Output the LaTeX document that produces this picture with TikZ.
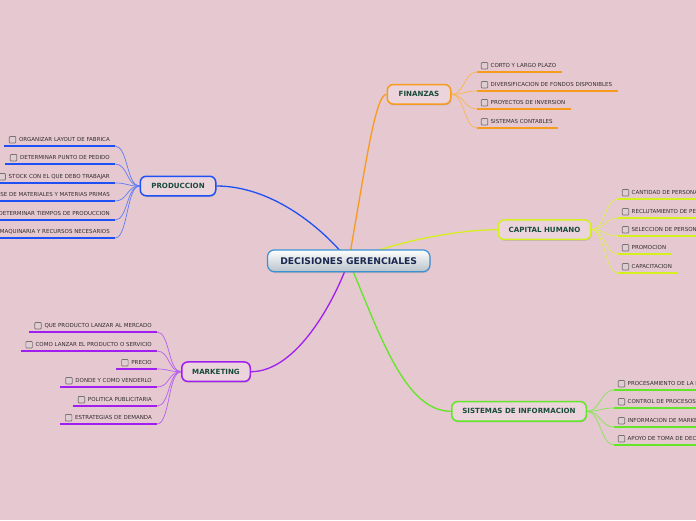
\documentclass[tikz,border=0pt]{standalone}
\usepackage{fontspec}
\setmainfont{DejaVu Sans}
\usetikzlibrary{shadows,calc}
\definecolor{bg}{RGB}{229,200,208}
\definecolor{nodefill}{RGB}{236,212,220}
\definecolor{kidtxt}{RGB}{50,45,48}
\definecolor{maintxt}{RGB}{25,75,60}
\definecolor{roottxt}{RGB}{25,40,80}
\definecolor{rootborder}{RGB}{60,145,210}
\definecolor{rootbottom}{RGB}{185,193,202}
\definecolor{cblue}{RGB}{30,80,245}
\definecolor{cbluel}{RGB}{95,125,245}
\definecolor{corange}{RGB}{247,155,30}
\definecolor{corangel}{RGB}{248,182,85}
\definecolor{cyellow}{RGB}{212,240,30}
\definecolor{cyellowl}{RGB}{222,240,80}
\definecolor{cgreen}{RGB}{100,230,40}
\definecolor{cgreenl}{RGB}{135,230,85}
\definecolor{cpurple}{RGB}{160,30,240}
\definecolor{cpurplel}{RGB}{182,95,240}
\definecolor{cboxdraw}{RGB}{120,112,116}
\definecolor{cboxfill}{RGB}{222,206,212}
\pgfdeclarelayer{bglayer}
\pgfdeclarelayer{lines}
\pgfsetlayers{bglayer,lines,main}
\tikzset{
  mainnode/.style={draw=#1, line width=1.5pt, rounded corners=6pt, fill=nodefill,
    minimum height=19.5pt, inner sep=0pt, font=\fontsize{7.1}{8}\selectfont\bfseries, text=maintxt,
    drop shadow={shadow xshift=0.6pt, shadow yshift=-1.3pt, opacity=0.3}},
  rootnode/.style={draw=rootborder, line width=1.2pt, rounded corners=7pt,
    top color=white, bottom color=rootbottom, minimum width=162.5pt, minimum height=21.8pt,
    inner sep=0pt, font=\fontsize{9.2}{10}\selectfont\bfseries, text=roottxt,
    drop shadow={shadow xshift=0.6pt, shadow yshift=-1.3pt, opacity=0.3}},
  kidtext/.style={font=\fontsize{5.5}{6}\selectfont, text=kidtxt, inner sep=1pt},
  cbox/.style={draw=cboxdraw, fill=cboxfill, rounded corners=0.8pt, minimum size=6.5pt,
    inner sep=0pt, line width=0.7pt},
  uline/.style={draw=#1, line width=2pt},
  subline/.style={draw=#1, line width=0.7pt},
  mainline/.style={draw=#1, line width=1.3pt}
}
\newcommand\RKid[6]{%
  \coordinate (#1u) at (#4,#5);
  \node[cbox] (#1b) at (#4+7.5,#5-6.3) {};
  \node[kidtext,anchor=west] (#1) at (#4+12.5,#5-6.3) {#6};
  \coordinate (#1e) at ($(#1.east |- #1u)+(4.5,0)$);
  \begin{pgfonlayer}{lines}
  \draw[uline=#3] (#1u) -- (#1e);
  \draw[subline=#3l] (#2.east) .. controls +(13,0) and +(-13,0) .. (#1u);
  \end{pgfonlayer}
}
\newcommand\LKid[6]{%
  \coordinate (#1u) at (#4,#5);
  \node[kidtext,anchor=east] (#1) at (#4-4,#5-6.3) {#6};
  \node[cbox] (#1b) at ($(#1.west)+(-5.3,0)$) {};
  \coordinate (#1s) at ($(#1b.west |- #1u)+(-5,0)$);
  \begin{pgfonlayer}{lines}
  \draw[uline=#3] (#1s) -- (#1u);
  \draw[subline=#3l] (#2.west) .. controls +(-13,0) and +(13,0) .. (#1u);
  \end{pgfonlayer}
}
\begin{document}
\begin{tikzpicture}[x=1pt,y=-1pt]
\useasboundingbox (0,0) rectangle (696,520);
\clip (0,0) rectangle (696,520);
\begin{pgfonlayer}{bglayer}
\fill[bg] (0,0) rectangle (696,520);
\end{pgfonlayer}

\node[rootnode] (root) at (348.7,260.8) {DECISIONES GERENCIALES};
\node[mainnode=corange, minimum width=63.5pt] (fin) at (419,94.3) {FINANZAS};
\node[mainnode=cyellow, minimum width=92.5pt] (cap) at (544.5,229.7) {CAPITAL HUMANO};
\node[mainnode=cgreen, minimum width=134.5pt] (sis) at (519,411.3) {SISTEMAS DE INFORMACION};
\node[mainnode=cblue, minimum width=75.5pt] (prod) at (178,186) {PRODUCCION};
\node[mainnode=cpurple, minimum width=68.5pt] (mkt) at (216,371.7) {MARKETING};

\begin{pgfonlayer}{lines}
\draw[mainline=cblue] (prod.east) .. controls (270,186) and (320,225) .. (root.center);
\draw[mainline=corange] (root.center) .. controls (365,170) and (375,94.3) .. (fin.west);
\draw[mainline=cyellow] (root.center) .. controls (400,240) and (460,229.7) .. (cap.west);
\draw[mainline=cpurple] (mkt.east) .. controls (297,371.7) and (335,300) .. (root.center);
\draw[mainline=cgreen] (root.center) .. controls (380,335) and (405,411.3) .. (sis.west);
\end{pgfonlayer}

\RKid{f1}{fin}{corange}{477}{72}{CORTO Y LARGO PLAZO}
\RKid{f2}{fin}{corange}{477}{91}{DIVERSIFICACION DE FONDOS DISPONIBLES}
\RKid{f3}{fin}{corange}{477}{109}{PROYECTOS DE INVERSION}
\RKid{f4}{fin}{corange}{477}{128}{SISTEMAS CONTABLES}

\RKid{c1}{cap}{cyellow}{618}{199}{CANTIDAD DE PERSONAL}
\RKid{c2}{cap}{cyellow}{618}{218}{RECLUTAMIENTO DE PERSONAL}
\RKid{c3}{cap}{cyellow}{618}{236}{SELECCION DE PERSONAL}
\RKid{c4}{cap}{cyellow}{618}{254}{PROMOCION}
\RKid{c5}{cap}{cyellow}{618}{273}{CAPACITACION}

\RKid{s1}{sis}{cgreen}{614}{390}{PROCESAMIENTO DE LA INFORMACION}
\RKid{s2}{sis}{cgreen}{614}{408}{CONTROL DE PROCESOS INTERNOS}
\RKid{s3}{sis}{cgreen}{614}{427}{INFORMACION DE MARKETING}
\RKid{s4}{sis}{cgreen}{614}{445}{APOYO DE TOMA DE DECISIONES}

\LKid{p1}{prod}{cblue}{115}{146}{ORGANIZAR LAYOUT DE FABRICA}
\LKid{p2}{prod}{cblue}{115}{164}{DETERMINAR PUNTO DE PEDIDO}
\LKid{p3}{prod}{cblue}{115}{183}{STOCK CON EL QUE DEBO TRABAJAR}
\LKid{p4}{prod}{cblue}{115}{201}{CLASE DE MATERIALES Y MATERIAS PRIMAS}
\LKid{p5}{prod}{cblue}{115}{220}{DETERMINAR TIEMPOS DE PRODUCCION}
\LKid{p6}{prod}{cblue}{115}{238}{MAQUINARIA Y RECURSOS NECESARIOS}

\LKid{m1}{mkt}{cpurple}{157}{332}{QUE PRODUCTO LANZAR AL MERCADO}
\LKid{m2}{mkt}{cpurple}{157}{351}{COMO LANZAR EL PRODUCTO O SERVICIO}
\LKid{m3}{mkt}{cpurple}{157}{369}{PRECIO}
\LKid{m4}{mkt}{cpurple}{157}{387}{DONDE Y COMO VENDERLO}
\LKid{m5}{mkt}{cpurple}{157}{406}{POLITICA PUBLICITARIA}
\LKid{m6}{mkt}{cpurple}{157}{424}{ESTRATEGIAS DE DEMANDA}
\end{tikzpicture}
\end{document}
